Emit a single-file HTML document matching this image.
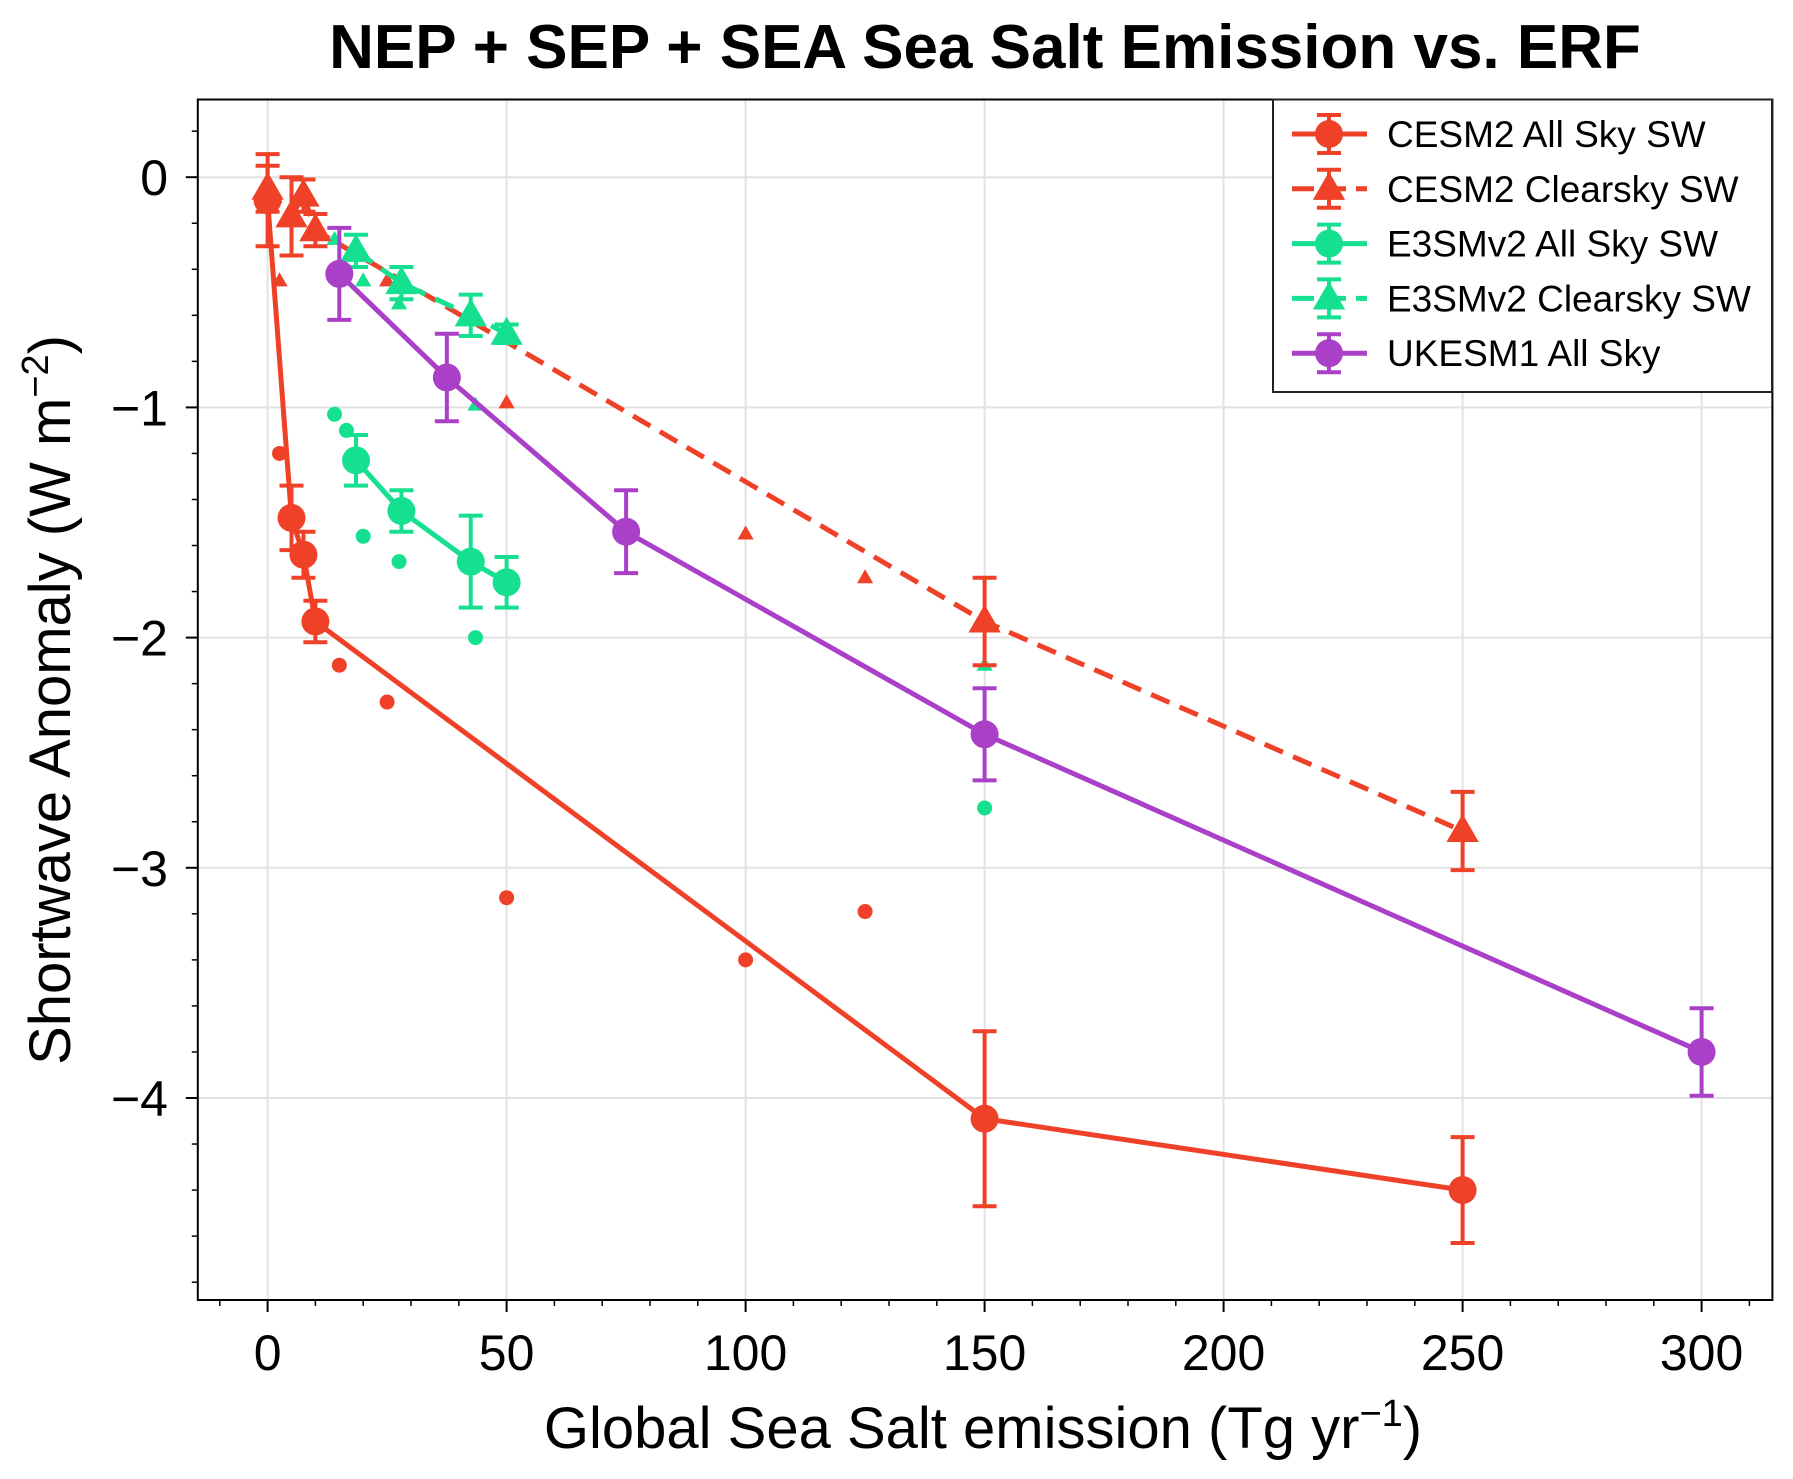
<!DOCTYPE html>
<html><head><meta charset="utf-8"><style>
html,body{margin:0;padding:0;background:#fff;}
svg{display:block;font-family:"Liberation Sans",Arial,sans-serif;}
</style></head><body>
<svg id="chart" width="1793" height="1479" viewBox="0 0 1793 1479" xmlns="http://www.w3.org/2000/svg">
<rect width="1793" height="1479" fill="#fff"/>
<text x="985" y="68" text-anchor="middle" font-size="62" font-weight="bold">NEP + SEP + SEA Sea Salt Emission vs. ERF</text>
<g id="grid"></g>
<g id="axes"></g>
<g id="series"></g>
<rect x="197.8" y="99.5" width="1574.6" height="1200.5" fill="none" stroke="#000" stroke-width="2"/>
<text x="983" y="1448" text-anchor="middle" font-size="58">Global Sea Salt emission (Tg yr<tspan font-size="38" dy="-22">−1</tspan><tspan dy="22">)</tspan></text>
<text transform="translate(70,700) rotate(-90)" text-anchor="middle" font-size="58">Shortwave Anomaly (W m<tspan font-size="38" dy="-22">−2</tspan><tspan dy="22">)</tspan></text>
<g id="legend"></g>
</svg>
<script>
const NS="http://www.w3.org/2000/svg";
const xTicks=[0,50,100,150,200,250,300];
const yTicks=[0,-1,-2,-3,-4];
const xTickLabels=["0","50","100","150","200","250","300"];
const yTickLabels=["0","−1","−2","−3","−4"];
const cesmAllX=[0,5,7.5,10,150,250];
const cesmAllY=[-0.1,-1.48,-1.64,-1.93,-4.09,-4.40];
const cesmAllE=[0.2,0.14,0.1,0.09,0.38,0.23];
const cesmAllIndX=[2.5,15,25,50,100,125];
const cesmAllIndY=[-1.2,-2.12,-2.28,-3.13,-3.4,-3.19];
const cesmClrX=[0,5,7.5,10,150,250];
const cesmClrY=[-0.05,-0.17,-0.08,-0.23,-1.93,-2.84];
const cesmClrE=[0.1,0.17,0.07,0.07,0.19,0.17];
const cesmClrIndX=[2.5,25,50,100,125];
const cesmClrIndY=[-0.45,-0.45,-0.98,-1.55,-1.74];
const e3AllX=[18.5,28,42.5,50];
const e3AllY=[-1.23,-1.45,-1.67,-1.76];
const e3AllE=[0.11,0.09,0.2,0.11];
const e3AllIndX=[14,16.5,20,27.5,43.5,150];
const e3AllIndY=[-1.03,-1.1,-1.56,-1.67,-2.0,-2.74];
const e3ClrX=[18.5,28,42.5,50];
const e3ClrY=[-0.32,-0.46,-0.6,-0.68];
const e3ClrE=[0.07,0.07,0.09,0.04];
const e3ClrIndX=[14,20,27.5,43.5,150];
const e3ClrIndY=[-0.27,-0.45,-0.55,-0.99,-2.12];
const ukX=[15,37.5,75,150,300];
const ukY=[-0.42,-0.87,-1.54,-2.42,-3.80];
const ukE=[0.2,0.19,0.18,0.2,0.19];
const legendLabels=["CESM2 All Sky SW","CESM2 Clearsky SW","E3SMv2 All Sky SW","E3SMv2 Clearsky SW","UKESM1 All Sky"];

const RED="#ef4128",GREEN="#14e090",PURPLE="#aa40c8";
const L=197.8,R=1772.4,T=99.5,B=1300;
function sx(v){return 267.6+v*4.78;}
function sy(v){return 177.2-v*230.2;}
function mk(tag,attrs,parent){const e=document.createElementNS(NS,tag);for(const k in attrs)e.setAttribute(k,attrs[k]);parent.appendChild(e);return e;}
const grid=document.getElementById('grid'),axes=document.getElementById('axes'),ser=document.getElementById('series'),leg=document.getElementById('legend');

xTicks.forEach((v,i)=>{
  const g=mk('line',{x1:sx(v),x2:sx(v),y1:T,y2:B,stroke:"#e2e2e2","stroke-width":2},grid);
  
  const t=mk('line',{x1:sx(v),x2:sx(v),y1:B,y2:B+12,stroke:"#000","stroke-width":2},axes);
  
  const tx=mk('text',{x:sx(v),y:1370,"text-anchor":"middle","font-size":50},axes);tx.textContent=xTickLabels[i];
  
});
for(let v=-10;v<=310;v+=10){if(v%50===0)continue;const x=sx(v);if(x<L||x>R)continue;
  const t=mk('line',{x1:x,x2:x,y1:B,y2:B+6,stroke:"#000","stroke-width":1.5},axes);
  }
yTicks.forEach((v,i)=>{
  const g=mk('line',{x1:L,x2:R,y1:sy(v),y2:sy(v),stroke:"#e2e2e2","stroke-width":2},grid);
  
  const t=mk('line',{x1:L-12,x2:L,y1:sy(v),y2:sy(v),stroke:"#000","stroke-width":2},axes);
  
  const tx=mk('text',{x:168,y:sy(v)+18,"text-anchor":"end","font-size":50},axes);tx.textContent=yTickLabels[i];
  
});
for(let k=-24;k<=2;k++){if(k%5===0)continue;const y=sy(k*0.2);if(y<T||y>B)continue;
  const t=mk('line',{x1:L-6,x2:L,y1:y,y2:y,stroke:"#000","stroke-width":1.5},axes);
  }

function tri(cx,cy,s){return `${cx},${cy-s} ${cx-s*0.95},${cy+s*0.65} ${cx+s*0.95},${cy+s*0.65}`;}
function series(name,xs,ys,es,color,dash,marker){
  const g=mk('g',{},ser);
  const pts=xs.map((x,i)=>sx(x)+","+sy(ys[i])).join(" ");
  const pl=mk('polyline',{points:pts,fill:"none",stroke:color,"stroke-width":5,"stroke-dasharray":dash?"20,11":"none"},g);
  
  xs.forEach((x,i)=>{
    const cx=sx(x),y1=sy(ys[i]+es[i]),y2=sy(ys[i]-es[i]);
    const eb=mk('path',{d:`M${cx},${y1}V${y2}M${cx-12},${y1}H${cx+12}M${cx-12},${y2}H${cx+12}`,stroke:color,"stroke-width":4,fill:"none"},g);
    
    let m;
    if(marker==='o')m=mk('circle',{cx:cx,cy:sy(ys[i]),r:14,fill:color},g);
    else m=mk('polygon',{points:tri(cx,sy(ys[i]),17),fill:color},g);
    
  });
}
function ind(name,xs,ys,color,marker){
  const g=mk('g',{},ser);
  xs.forEach((x,i)=>{let m;
    if(marker==='o')m=mk('circle',{cx:sx(x),cy:sy(ys[i]),r:7.5,fill:color},g);
    else m=mk('polygon',{points:tri(sx(x),sy(ys[i]),8.5),fill:color},g);
    });
}
ind('cesm2-allsky-members',cesmAllIndX,cesmAllIndY,RED,'o');
ind('cesm2-clearsky-members',cesmClrIndX,cesmClrIndY,RED,'^');
ind('e3smv2-allsky-members',e3AllIndX,e3AllIndY,GREEN,'o');
ind('e3smv2-clearsky-members',e3ClrIndX,e3ClrIndY,GREEN,'^');
series('cesm2-allsky',cesmAllX,cesmAllY,cesmAllE,RED,false,'o');
series('cesm2-clearsky',cesmClrX,cesmClrY,cesmClrE,RED,true,'^');
series('e3smv2-allsky',e3AllX,e3AllY,e3AllE,GREEN,false,'o');
series('e3smv2-clearsky',e3ClrX,e3ClrY,e3ClrE,GREEN,true,'^');
series('ukesm1-allsky',ukX,ukY,ukE,PURPLE,false,'o');

const lb=mk('rect',{x:1273,y:99.5,width:499,height:292.5,fill:"#fff",stroke:"#222","stroke-width":2},leg);

const lc=[RED,RED,GREEN,GREEN,PURPLE],lm=['o','^','o','^','o'],ld=[false,true,false,true,false];
legendLabels.forEach((lab,i)=>{
  const y=134+i*54.8;
  const g=mk('g',{},leg);
  mk('line',{x1:1292,x2:1367,y1:y,y2:y,stroke:lc[i],"stroke-width":5,"stroke-dasharray":ld[i]?"22,10":"none"},g);
  mk('path',{d:`M1329,${y-19}V${y+19}M1317,${y-19}H1341M1317,${y+19}H1341`,stroke:lc[i],"stroke-width":4},g);
  if(lm[i]==='o')mk('circle',{cx:1329,cy:y,r:14,fill:lc[i]},g);else mk('polygon',{points:tri(1329,y,17),fill:lc[i]},g);
  const t=mk('text',{x:1387,y:y+13,"font-size":37},g);t.textContent=lab;
});
</script>
</body></html>
